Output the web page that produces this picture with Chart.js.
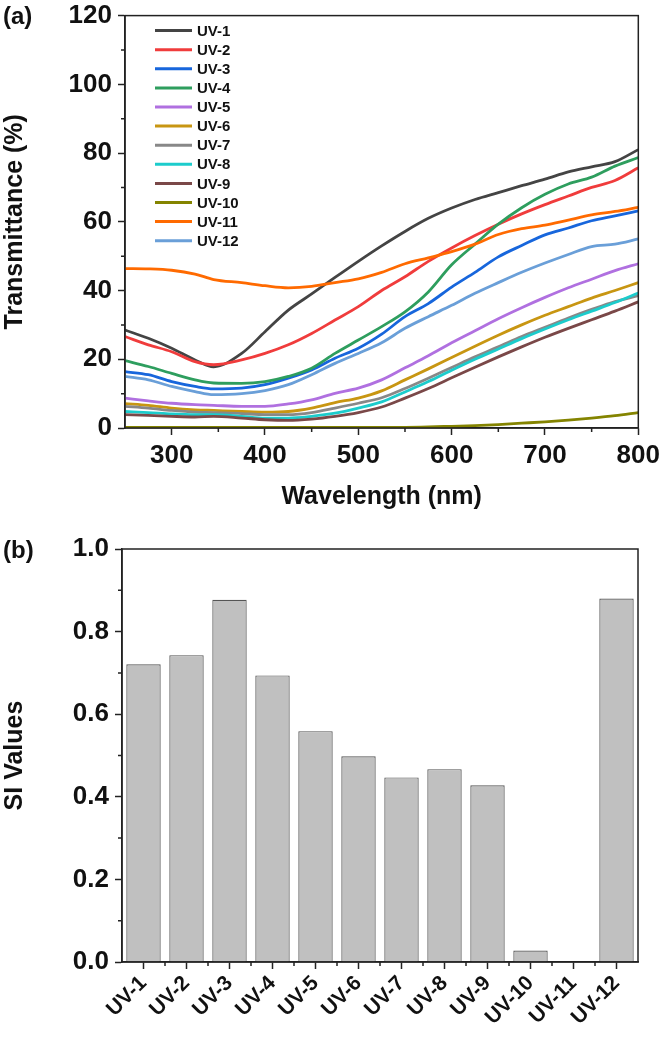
<!DOCTYPE html>
<html>
<head>
<meta charset="utf-8">
<script src="https://cdn.jsdelivr.net/npm/chart.js@4.4.1/dist/chart.umd.min.js"></script>
<style>
  html, body { margin: 0; padding: 0; background: #fff; }
  #wrap { position: relative; width: 665px; height: 1040px; overflow: hidden; font-family: "Liberation Sans", Arial, sans-serif; }
  .box { position: absolute; left: 0; width: 665px; }
  .tag { position: absolute; left: 3px; font-weight: bold; font-size: 24px; line-height: 1; color: #111; }
</style>
</head>
<body>
<div id="wrap">
  <div class="box" style="top:-6px;height:526px"><canvas id="specChart"></canvas></div>
  <div class="box" style="top:520px;height:520px"><canvas id="siChart"></canvas></div>
  <div class="tag" style="top:4px">(a)</div>
  <div class="tag" style="top:538px">(b)</div>
</div>
<script>
// wavelength grid (nm) and transmittance (%)
var wavelengths = [250, 275, 300, 325, 345, 375, 400, 425, 450, 475, 500, 525, 550, 575, 600, 625, 650, 675, 700, 725, 750, 775, 800];
var uv1  = [28.5, 26.1, 23.2, 19.8, 17.8, 21.7, 28.0, 34.3, 39.0, 43.8, 48.5, 53.0, 57.2, 61.0, 64.0, 66.5, 68.5, 70.5, 72.4, 74.5, 76.0, 77.5, 81.0];
var uv2  = [26.6, 24.2, 22.2, 19.3, 18.4, 19.8, 21.7, 24.2, 27.5, 31.4, 35.3, 40.0, 44.0, 48.5, 52.4, 56.0, 59.3, 62.3, 65.0, 67.5, 70.0, 72.0, 75.7];
var uv3  = [16.4, 15.5, 13.5, 12.1, 11.4, 11.6, 12.6, 14.5, 16.9, 20.3, 23.2, 27.3, 32.4, 36.2, 41.0, 45.3, 49.8, 53.1, 56.2, 58.2, 60.3, 61.7, 63.2];
var uv4  = [19.6, 17.9, 15.9, 14.0, 13.1, 13.0, 13.5, 15.0, 17.4, 21.7, 25.6, 29.5, 33.8, 39.6, 47.5, 53.5, 59.3, 64.1, 68.0, 71.0, 73.0, 76.2, 78.7];
var uv5  = [8.7, 7.9, 7.2, 6.8, 6.6, 6.3, 6.3, 7.0, 8.2, 10.1, 11.6, 14.0, 17.5, 21.0, 24.8, 28.3, 31.8, 35.0, 38.0, 40.8, 43.3, 45.8, 47.8];
var uv6  = [7.1, 6.6, 5.8, 5.3, 5.1, 4.8, 4.6, 4.8, 5.8, 7.4, 8.7, 10.8, 14.0, 17.2, 20.5, 23.8, 27.0, 30.0, 32.8, 35.3, 37.8, 40.0, 42.3];
var uv7  = [6.3, 5.8, 5.1, 4.6, 4.5, 4.2, 3.9, 3.9, 4.5, 5.8, 7.2, 8.8, 11.5, 14.5, 17.6, 20.7, 23.6, 26.6, 29.3, 32.0, 34.5, 36.8, 38.5];
var uv8  = [4.8, 4.5, 4.1, 3.9, 3.9, 3.4, 2.9, 2.9, 3.4, 4.3, 5.8, 7.6, 10.5, 13.5, 16.8, 20.0, 23.0, 26.0, 28.8, 31.5, 34.0, 36.5, 39.3];
var uv9  = [3.9, 3.7, 3.4, 3.2, 3.4, 2.9, 2.4, 2.2, 2.6, 3.4, 4.5, 6.1, 8.7, 11.5, 14.6, 17.7, 20.7, 23.6, 26.4, 29.0, 31.5, 34.0, 36.7];
var uv10 = [0.2, 0.2, 0.2, 0.2, 0.2, 0.2, 0.2, 0.2, 0.2, 0.2, 0.2, 0.2, 0.2, 0.3, 0.5, 0.7, 1.0, 1.4, 1.8, 2.3, 2.9, 3.6, 4.5];
var uv11 = [46.4, 46.3, 45.9, 44.8, 43.2, 42.3, 41.4, 40.8, 41.2, 42.3, 43.4, 45.3, 47.8, 49.5, 51.3, 53.5, 56.3, 58.0, 59.0, 60.5, 62.0, 63.0, 64.2];
var uv12 = [15.0, 14.0, 12.1, 10.6, 9.7, 10.0, 10.9, 12.6, 15.5, 18.8, 21.7, 24.8, 29.0, 32.4, 35.7, 39.2, 42.3, 45.3, 48.0, 50.5, 52.8, 53.5, 55.0];

var sampleNames = ['UV-1', 'UV-2', 'UV-3', 'UV-4', 'UV-5', 'UV-6', 'UV-7', 'UV-8', 'UV-9', 'UV-10', 'UV-11', 'UV-12'];
var lineColors = ['#444444', '#f03c3c', '#1766dc', '#2e9e5e', '#b070e0', '#c89612', '#888888', '#1ccccc', '#7a4848', '#848400', '#ff6a00', '#6a9fd8'];
var spectra = [uv1, uv2, uv3, uv4, uv5, uv6, uv7, uv8, uv9, uv10, uv11, uv12];

// SI values per sample (panel b)
var siValues = [0.721, 0.743, 0.877, 0.694, 0.559, 0.498, 0.447, 0.467, 0.428, 0.028, 0, 0.880];

var xTicksA = [300, 400, 500, 600, 700, 800];
var yTicksA = [0, 20, 40, 60, 80, 100, 120];
var yTicksB = [0, 0.2, 0.4, 0.6, 0.8, 1.0];

var axisColor = '#222';
var fontFamily = '"Liberation Sans", Arial, sans-serif';
var tickFont = { family: fontFamily, size: 26, weight: 'bold' };
var titleFont = { family: fontFamily, size: 25, weight: 'bold' };

// box frame + short minor ticks between the major ones
var frameTicks = {
  id: 'frameTicks',
  afterDraw: function(chart, args, opts) {
    var ctx = chart.ctx, a = chart.chartArea;
    ctx.save();
    ctx.strokeStyle = axisColor;
    ctx.lineWidth = 1.5;
    ctx.strokeRect(a.left, a.top, a.right - a.left, a.bottom - a.top);
    ctx.beginPath();
    (opts.minorX || []).forEach(function(v) {
      var px = chart.scales.x.getPixelForValue(v);
      ctx.moveTo(px, a.bottom);
      ctx.lineTo(px, a.bottom + 4);
    });
    (opts.minorY || []).forEach(function(v) {
      var py = chart.scales.y.getPixelForValue(v);
      ctx.moveTo(a.left, py);
      ctx.lineTo(a.left - 4, py);
    });
    ctx.stroke();
    ctx.restore();
  }
};

// legend drawn inside the plot as a single column
var innerLegend = {
  id: 'innerLegend',
  afterDraw: function(chart) {
    var ctx = chart.ctx, a = chart.chartArea;
    ctx.save();
    ctx.font = 'bold 15px ' + fontFamily;
    ctx.textBaseline = 'middle';
    chart.data.datasets.forEach(function(ds, i) {
      var y = a.top + 15 + i * 19.1;
      ctx.strokeStyle = ds.borderColor;
      ctx.lineWidth = 3;
      ctx.beginPath();
      ctx.moveTo(a.left + 30, y);
      ctx.lineTo(a.left + 67, y);
      ctx.stroke();
      ctx.fillStyle = '#111';
      ctx.fillText(ds.label, a.left + 72, y + 1);
    });
    ctx.restore();
  }
};

var specDatasets = spectra.map(function(vals, i) {
  return {
    label: sampleNames[i],
    data: wavelengths.map(function(w, k) { return { x: w, y: vals[k] }; }),
    borderColor: lineColors[i],
    backgroundColor: lineColors[i],
    borderWidth: 2.8,
    pointRadius: 0,
    fill: false,
    cubicInterpolationMode: 'monotone',
    order: spectra.length - 1 - i
  };
});

new Chart(document.getElementById('specChart').getContext('2d'), {
  type: 'line',
  data: { datasets: specDatasets },
  options: {
    responsive: true,
    maintainAspectRatio: false,
    animation: false,
    layout: { padding: { top: 14, right: 24, left: 0, bottom: 0 } },
    plugins: {
      legend: { display: false },
      tooltip: { enabled: false },
      frameTicks: { minorX: [350, 450, 550, 650, 750], minorY: [10, 30, 50, 70, 90, 110] }
    },
    scales: {
      x: {
        type: 'linear',
        min: 250,
        max: 800,
        afterBuildTicks: function(s) { s.ticks = xTicksA.map(function(v) { return { value: v }; }); },
        afterFit: function(s) { s.height = 92; },
        grid: { drawOnChartArea: false, drawTicks: true, tickLength: 7, tickColor: axisColor, tickWidth: 1.5 },
        border: { display: true, color: axisColor, width: 1.5 },
        ticks: { color: '#111', font: tickFont, padding: 5, maxRotation: 0 },
        title: { display: true, text: 'Wavelength (nm)', color: '#111', font: titleFont, padding: { top: 8, bottom: 8 } }
      },
      y: {
        min: 0,
        max: 120,
        afterBuildTicks: function(s) { s.ticks = yTicksA.map(function(v) { return { value: v }; }); },
        afterFit: function(s) { s.width = 125; },
        grid: { drawOnChartArea: false, drawTicks: true, tickLength: 7, tickColor: axisColor, tickWidth: 1.5 },
        border: { display: true, color: axisColor, width: 1.5 },
        ticks: { color: '#111', font: tickFont, padding: 6 },
        title: { display: true, text: 'Transmittance (%)', color: '#111', font: titleFont, padding: 0 }
      }
    }
  },
  plugins: [frameTicks, innerLegend]
});

var barBounds = sampleNames.slice(0, -1).map(function(n, i) { return i + 0.5; });

new Chart(document.getElementById('siChart').getContext('2d'), {
  type: 'bar',
  data: {
    labels: sampleNames,
    datasets: [{
      data: siValues,
      backgroundColor: '#c0c0c0',
      borderColor: '#555',
      borderWidth: 1.2,
      barPercentage: 0.8,
      categoryPercentage: 1.0
    }]
  },
  options: {
    responsive: true,
    maintainAspectRatio: false,
    animation: false,
    layout: { padding: { top: 29, right: 27, left: 0, bottom: 0 } },
    plugins: {
      legend: { display: false },
      tooltip: { enabled: false },
      frameTicks: { minorX: barBounds, minorY: [0.1, 0.3, 0.5, 0.7, 0.9] }
    },
    scales: {
      x: {
        afterFit: function(s) { s.height = 78; },
        grid: { offset: false, drawOnChartArea: false, drawTicks: true, tickLength: 7, tickColor: axisColor, tickWidth: 1.5 },
        border: { display: true, color: axisColor, width: 1.5 },
        ticks: { color: '#111', font: { family: fontFamily, size: 21, weight: 'bold' }, padding: 2, minRotation: 45, maxRotation: 45, autoSkip: false }
      },
      y: {
        min: 0,
        max: 1.0,
        afterBuildTicks: function(s) { s.ticks = yTicksB.map(function(v) { return { value: v }; }); },
        afterFit: function(s) { s.width = 122; },
        grid: { drawOnChartArea: false, drawTicks: true, tickLength: 7, tickColor: axisColor, tickWidth: 1.5 },
        border: { display: true, color: axisColor, width: 1.5 },
        ticks: { color: '#111', font: tickFont, padding: 6, callback: function(v) { return Number(v).toFixed(1); } },
        title: { display: true, text: 'SI Values', color: '#111', font: titleFont, padding: 0 }
      }
    }
  },
  plugins: [frameTicks]
});
</script>
</body>
</html>
